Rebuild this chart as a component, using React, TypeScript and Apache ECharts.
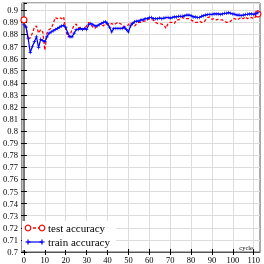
import React, { useEffect, useRef } from "react";
import * as echarts from "echarts";

const testAccuracy = [
  0.892, 0.886, 0.876, 0.877, 0.881, 0.886, 0.887, 0.881, 0.884, 0.882,
  0.867, 0.881, 0.884, 0.885, 0.889, 0.894, 0.893, 0.894, 0.893, 0.8945,
  0.884, 0.878, 0.879, 0.884, 0.8875, 0.8885, 0.885, 0.886, 0.884, 0.885,
  0.887, 0.89, 0.888, 0.886, 0.885, 0.887, 0.888, 0.889, 0.887, 0.889,
  0.888, 0.888, 0.889, 0.888, 0.889, 0.89, 0.889, 0.888, 0.886, 0.887,
  0.888, 0.89, 0.888, 0.887, 0.889, 0.89, 0.89, 0.891, 0.891, 0.892,
  0.893, 0.892, 0.892, 0.89, 0.889, 0.889, 0.8885, 0.888, 0.885, 0.889,
  0.89, 0.89, 0.889, 0.892, 0.892, 0.893, 0.894, 0.893, 0.893, 0.893,
  0.892, 0.891, 0.89, 0.89, 0.891, 0.89, 0.89, 0.892, 0.894, 0.8945,
  0.8925, 0.893, 0.892, 0.8925, 0.892, 0.892, 0.891, 0.89, 0.89, 0.891,
  0.893, 0.893, 0.892, 0.893, 0.894, 0.893, 0.8945, 0.893, 0.894, 0.894,
  0.893, 0.895, 0.897,
];

const trainAccuracy = [
  0.888, 0.886, 0.877, 0.865, 0.87, 0.874, 0.878, 0.869, 0.876, 0.875,
  0.874, 0.878, 0.881, 0.882, 0.883, 0.884, 0.885, 0.886, 0.887, 0.8875,
  0.886, 0.881, 0.878, 0.878, 0.881, 0.884, 0.884, 0.885, 0.884, 0.885,
  0.884, 0.888, 0.889, 0.888, 0.887, 0.887, 0.888, 0.889, 0.89, 0.8905,
  0.889, 0.886, 0.882, 0.885, 0.885, 0.885, 0.885, 0.885, 0.886, 0.884,
  0.882, 0.887, 0.889, 0.8905, 0.891, 0.891, 0.892, 0.892, 0.893, 0.893,
  0.894, 0.894, 0.893, 0.893, 0.893, 0.8935, 0.893, 0.8935, 0.894, 0.894,
  0.8935, 0.894, 0.8945, 0.8945, 0.895, 0.895, 0.895, 0.8955, 0.896, 0.896,
  0.8955, 0.8945, 0.8945, 0.894, 0.894, 0.895, 0.8955, 0.896, 0.8965, 0.8967,
  0.8965, 0.897, 0.897, 0.897, 0.8965, 0.897, 0.8975, 0.8975, 0.898, 0.8975,
  0.897, 0.8967, 0.896, 0.896, 0.8955, 0.896, 0.8965, 0.8967, 0.897, 0.897,
  0.8965, 0.897, 0.898,
];

const cycles = testAccuracy.map((_, i) => i);
const xTicks = [0, 10, 20, 30, 40, 50, 60, 70, 80, 90, 100, 110];
const seriesNames = ["test accuracy", "train accuracy"];
const xAxisTitle = "cycle";

const SERIF = "'Liberation Serif', 'DejaVu Serif', serif";
const PLUS = "path://M4,0h2v4h4v2h-4v4h-2v-4h-4v-2h4z";

export default function App() {
  const ref = useRef<HTMLDivElement>(null);
  useEffect(() => {
    if (!ref.current) return;
    const chart = echarts.init(ref.current, undefined, { renderer: "svg" });
    const last = testAccuracy.length - 1;
    const yBase = {
      type: "value" as const,
      min: 0.7,
      max: 0.906,
      interval: 0.01,
    };
    const xBase = {
      type: "value" as const,
      min: -1,
      max: 113,
    };
    chart.setOption({
      animation: false,
      grid: {
        left: 18,
        right: 4,
        top: 3,
        bottom: 12,
        show: true,
        borderColor: "#555",
        borderWidth: 1,
        containLabel: false,
      },
      xAxis: [
        {
          ...xBase,
          position: "bottom",
          axisLine: { show: true, lineStyle: { color: "#555", width: 1 } },
          axisTick: { show: true, customValues: xTicks, length: 3, lineStyle: { color: "#000" } },
          axisLabel: {
            customValues: xTicks,
            fontSize: 8.5,
            fontFamily: SERIF,
            color: "#000",
            margin: 3,
          },
          splitLine: { show: true, lineStyle: { color: "#ddd", width: 1 } },
        },
        {
          ...xBase,
          position: "bottom",
          axisLine: { show: false },
          axisTick: { show: true, inside: true, customValues: xTicks, length: 3, lineStyle: { color: "#000" } },
          axisLabel: { show: false },
          splitLine: { show: false },
        },
      ],
      yAxis: [
        {
          ...yBase,
          position: "left",
          axisLine: { show: true, lineStyle: { color: "#555", width: 1.5 } },
          axisTick: { show: true, length: 3, lineStyle: { color: "#000" } },
          axisLabel: {
            fontSize: 8.5,
            fontFamily: SERIF,
            color: "#000",
            margin: 4,
            showMaxLabel: false,
          },
          splitLine: { show: true, lineStyle: { color: "#ddd", width: 1 } },
        },
        {
          ...yBase,
          position: "left",
          axisLine: { show: false },
          axisTick: { show: true, inside: true, length: 3, lineStyle: { color: "#000" } },
          axisLabel: { show: false },
          splitLine: { show: false },
        },
      ],
      series: [
        {
          type: "line",
          name: seriesNames[0],
          xAxisIndex: 0,
          yAxisIndex: 0,
          data: testAccuracy.map((v, i) => ({
            value: [cycles[i], v],
            symbol: i === 0 || i === last ? "circle" : "none",
          })),
          symbolSize: 6,
          itemStyle: { color: "#fff", borderColor: "#f00", borderWidth: 1.2 },
          lineStyle: { color: "#f00", width: 1.3, type: [3, 2] },
          z: 3,
        },
        {
          type: "line",
          name: seriesNames[1],
          xAxisIndex: 0,
          yAxisIndex: 0,
          data: trainAccuracy.map((v, i) => [cycles[i], v]),
          symbol: PLUS,
          symbolSize: 3.5,
          showSymbol: true,
          itemStyle: { color: "#00f" },
          lineStyle: { color: "#00f", width: 1.2 },
          z: 4,
        },
      ],
      graphic: [
        {
          type: "rect",
          z: 10,
          shape: { x: 22, y: 221, width: 94, height: 29 },
          style: { fill: "#fff" },
        },
        {
          type: "line",
          z: 11,
          shape: { x1: 28, y1: 228, x2: 42, y2: 228 },
          style: { stroke: "#f00", lineWidth: 1.3, lineDash: [3, 2] },
        },
        { type: "circle", z: 11, shape: { cx: 28, cy: 228, r: 2.8 }, style: { fill: "#fff", stroke: "#f00", lineWidth: 1.2 } },
        { type: "circle", z: 11, shape: { cx: 42, cy: 228, r: 2.8 }, style: { fill: "#fff", stroke: "#f00", lineWidth: 1.2 } },
        {
          type: "text",
          z: 11,
          x: 48,
          y: 228,
          style: { text: seriesNames[0], fill: "#000", font: `11px ${SERIF}`, textVerticalAlign: "middle" },
        },
        {
          type: "line",
          z: 11,
          shape: { x1: 28, y1: 242, x2: 42, y2: 242 },
          style: { stroke: "#00f", lineWidth: 1.2 },
        },
        { type: "line", z: 11, shape: { x1: 25.5, y1: 242, x2: 30.5, y2: 242 }, style: { stroke: "#00f", lineWidth: 1.2 } },
        { type: "line", z: 11, shape: { x1: 28, y1: 239.5, x2: 28, y2: 244.5 }, style: { stroke: "#00f", lineWidth: 1.2 } },
        { type: "line", z: 11, shape: { x1: 39.5, y1: 242, x2: 44.5, y2: 242 }, style: { stroke: "#00f", lineWidth: 1.2 } },
        { type: "line", z: 11, shape: { x1: 42, y1: 239.5, x2: 42, y2: 244.5 }, style: { stroke: "#00f", lineWidth: 1.2 } },
        {
          type: "text",
          z: 11,
          x: 48,
          y: 242,
          style: { text: seriesNames[1], fill: "#000", font: `11px ${SERIF}`, textVerticalAlign: "middle" },
        },
        {
          type: "text",
          z: 11,
          x: 253,
          y: 247,
          style: {
            text: xAxisTitle,
            fill: "#000",
            font: `6.5px ${SERIF}`,
            textAlign: "right",
            textVerticalAlign: "middle",
          },
        },
      ],
    });
    return () => chart.dispose();
  }, []);
  return <div ref={ref} style={{ width: 264, height: 264, position: "fixed", left: 0, top: 0 }} />;
}
